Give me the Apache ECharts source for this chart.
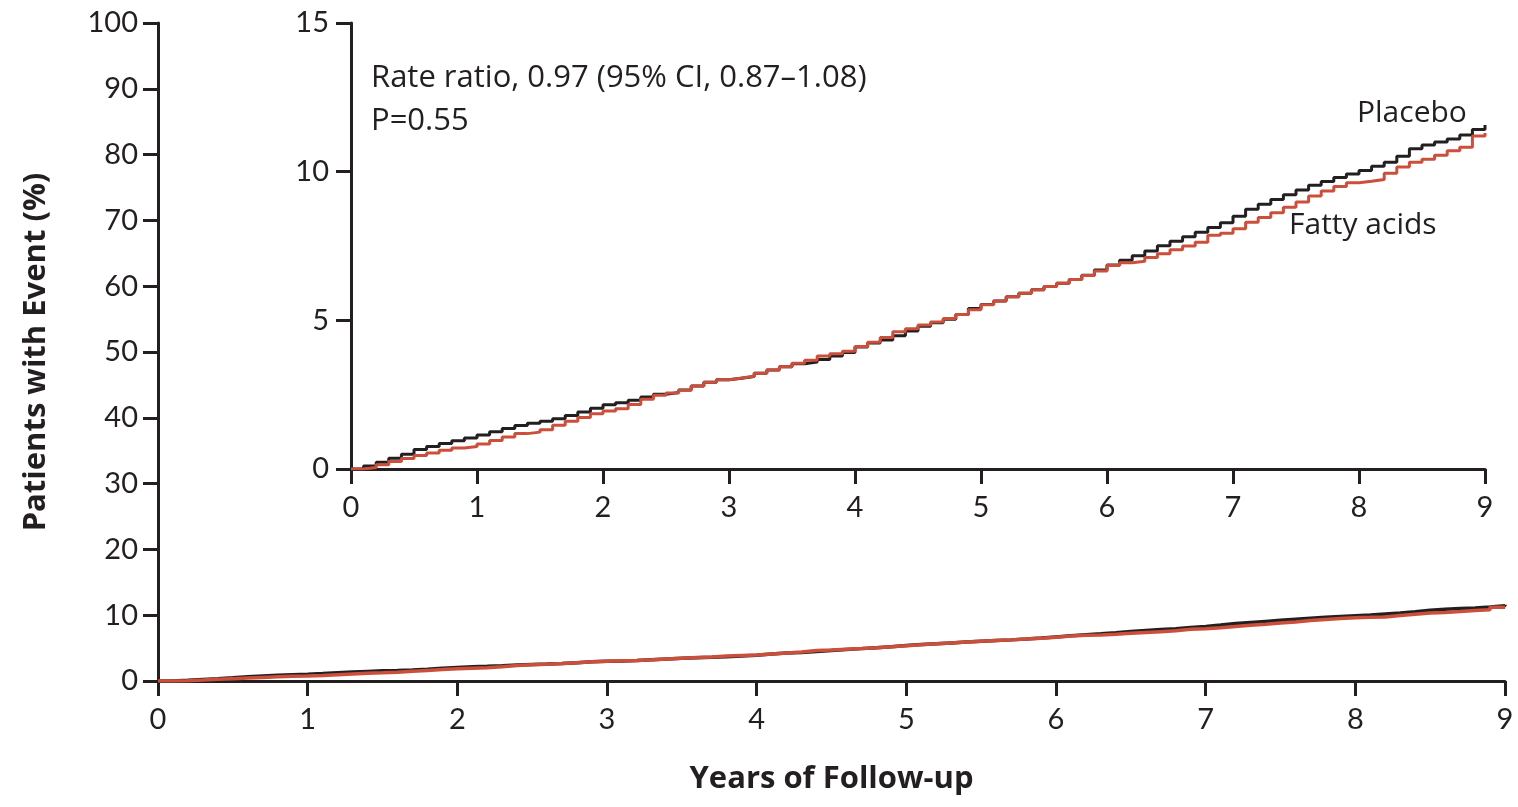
<!DOCTYPE html>
<html>
<head>
<meta charset="utf-8">
<title>Cumulative incidence</title>
<script src="https://cdn.jsdelivr.net/npm/echarts@6/dist/echarts.min.js"></script>
<style>
  html, body { margin: 0; padding: 0; background: #ffffff; overflow: hidden; }
  #chart { width: 1518px; height: 807px; }
</style>
</head>
<body>
<div id="chart"></div>
<script>
// Follow-up time in years (0.1-year steps)
const years = [
  0.0,0.1,0.2,0.3,0.4,0.5,0.6,0.7,0.8,0.9,
  1.0,1.1,1.2,1.3,1.4,1.5,1.6,1.7,1.8,1.9,
  2.0,2.1,2.2,2.3,2.4,2.5,2.6,2.7,2.8,2.9,
  3.0,3.1,3.2,3.3,3.4,3.5,3.6,3.7,3.8,3.9,
  4.0,4.1,4.2,4.3,4.4,4.5,4.6,4.7,4.8,4.9,
  5.0,5.1,5.2,5.3,5.4,5.5,5.6,5.7,5.8,5.9,
  6.0,6.1,6.2,6.3,6.4,6.5,6.6,6.7,6.8,6.9,
  7.0,7.1,7.2,7.3,7.4,7.5,7.6,7.7,7.8,7.9,
  8.0,8.1,8.2,8.3,8.4,8.5,8.6,8.7,8.8,8.9,
  9.0
];

// Cumulative percentage of patients with an event, placebo group
const placebo = [
  0.00,0.10,0.23,0.36,0.50,0.66,0.76,0.86,0.95,1.04,
  1.14,1.25,1.36,1.46,1.54,1.61,1.69,1.80,1.92,2.04,
  2.16,2.23,2.31,2.42,2.51,2.57,2.66,2.79,2.92,3.00,
  3.05,3.11,3.22,3.33,3.44,3.54,3.60,3.68,3.80,3.92,
  4.10,4.24,4.34,4.48,4.64,4.80,4.92,5.04,5.20,5.40,
  5.53,5.65,5.79,5.91,6.03,6.14,6.25,6.37,6.52,6.69,
  6.86,7.02,7.17,7.33,7.51,7.66,7.81,7.96,8.12,8.28,
  8.50,8.74,8.90,9.06,9.22,9.38,9.54,9.67,9.80,9.92,
  10.04,10.18,10.32,10.52,10.77,10.90,11.00,11.10,11.23,11.42,
  11.57
];

// Cumulative percentage of patients with an event, fatty-acid group
const fattyAcids = [
  0.00,0.05,0.14,0.25,0.35,0.45,0.54,0.63,0.71,0.76,
  0.84,0.96,1.08,1.19,1.24,1.32,1.47,1.61,1.73,1.86,
  1.95,2.03,2.17,2.35,2.48,2.56,2.65,2.79,2.92,3.00,
  3.06,3.12,3.22,3.33,3.44,3.56,3.66,3.80,3.88,3.96,
  4.12,4.26,4.42,4.62,4.72,4.84,4.94,5.06,5.20,5.36,
  5.52,5.65,5.79,5.91,6.03,6.14,6.25,6.37,6.51,6.66,
  6.84,6.94,6.99,7.11,7.24,7.37,7.50,7.63,7.86,7.93,
  8.08,8.30,8.46,8.62,8.80,8.98,9.18,9.35,9.50,9.63,
  9.68,9.74,9.95,10.16,10.32,10.42,10.55,10.70,10.82,11.20,
  11.30
];

const mainYTicks = [0,10,20,30,40,50,60,70,80,90,100];
const insetYTicks = [0,5,10,15];
const yearTicks = [0,1,2,3,4,5,6,7,8,9];

const INK = '#231f20';
const RED = '#cc4f3b';
const TICK_FONT = 'Lato, "Open Sans", sans-serif';
const TEXT_FONT = '"Open Sans", Lato, sans-serif';

const toPairs = vals => years.map((t, i) => [t, vals[i]]);

function valueAxis(extra) {
  return Object.assign({
    type: 'value',
    axisLine: { show: true, onZero: false, lineStyle: { color: INK, width: 3 } },
    axisTick: { show: true, inside: false, length: 15, lineStyle: { color: INK, width: 3 } },
    splitLine: { show: false }
  }, extra);
}

const tickLabel = margin => ({ color: INK, fontFamily: TICK_FONT, fontSize: 29, margin: margin });
const axisName = { color: INK, fontFamily: TEXT_FONT, fontSize: 31, fontWeight: 'bold' };

function curve(name, vals, color, axisIdx, width, z) {
  return {
    name: name, type: 'line', xAxisIndex: axisIdx, yAxisIndex: axisIdx,
    data: toPairs(vals), step: 'end', showSymbol: false,
    lineStyle: { color: color, width: width }, z: z
  };
}

const chart = echarts.init(document.getElementById('chart'), null, { renderer: 'canvas', width: 1518, height: 807 });

chart.setOption({
  animation: false,
  backgroundColor: '#ffffff',
  grid: [
    { left: 158, width: 1347, top: 23, height: 658, containLabel: false },
    { left: 351, width: 1134, top: 23, height: 446, containLabel: false }
  ],
  xAxis: [
    valueAxis({
      gridIndex: 0, min: yearTicks[0], max: yearTicks[yearTicks.length - 1], interval: 1,
      axisLabel: tickLabel(24),
      name: 'Years of Follow-up', nameLocation: 'middle', nameGap: 83,
      nameTextStyle: axisName
    }),
    valueAxis({
      gridIndex: 1, min: yearTicks[0], max: yearTicks[yearTicks.length - 1], interval: 1,
      axisLabel: tickLabel(24)
    })
  ],
  yAxis: [
    valueAxis({
      gridIndex: 0, min: mainYTicks[0], max: mainYTicks[mainYTicks.length - 1], interval: 10,
      axisLabel: tickLabel(20),
      name: 'Patients with Event (%)', nameLocation: 'middle', nameGap: 106, nameRotate: 90,
      nameTextStyle: axisName
    }),
    valueAxis({
      gridIndex: 1, min: insetYTicks[0], max: insetYTicks[insetYTicks.length - 1], interval: 5,
      axisLabel: tickLabel(22)
    })
  ],
  series: [
    curve('Placebo', placebo, INK, 0, 3.5, 2),
    curve('Fatty acids', fattyAcids, RED, 0, 3.5, 3),
    curve('Placebo', placebo, INK, 1, 3, 2),
    curve('Fatty acids', fattyAcids, RED, 1, 3, 3)
  ],
  graphic: [
    {
      type: 'text', x: 371, y: 78,
      style: { text: 'Rate ratio, 0.97 (95% CI, 0.87\u20131.08)', fill: INK, font: '31px ' + TEXT_FONT, verticalAlign: 'middle' }
    },
    {
      type: 'text', x: 371, y: 121,
      style: { text: 'P=0.55', fill: INK, font: '31px ' + TEXT_FONT, verticalAlign: 'middle' }
    },
    {
      type: 'text', x: 1357, y: 113,
      style: { text: 'Placebo', fill: INK, font: '30px ' + TEXT_FONT, verticalAlign: 'middle' }
    },
    {
      type: 'text', x: 1289, y: 225,
      style: { text: 'Fatty acids', fill: INK, font: '30px ' + TEXT_FONT, verticalAlign: 'middle' }
    }
  ]
});
</script>
</body>
</html>
